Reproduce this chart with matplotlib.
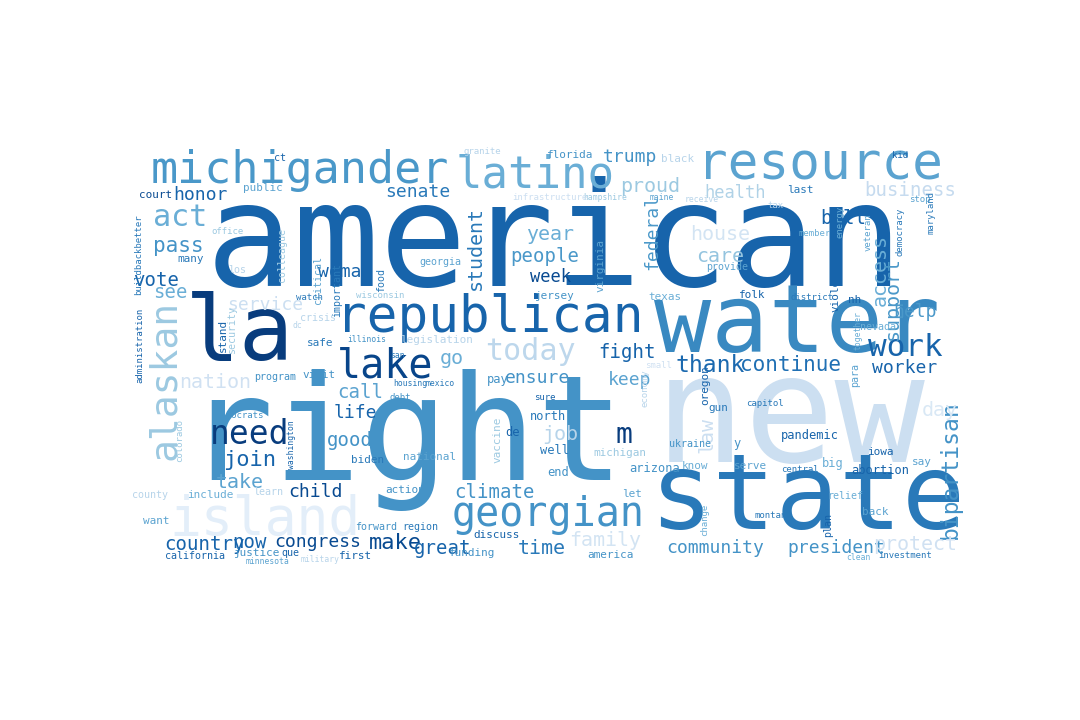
import matplotlib.pyplot as plt
from matplotlib import cm

# word, centre x, centre y (pixels), em size (px), rotation, shade in Blues
words = [
    ("american", 555, 245, 145, 0, 0.80),
    ("right", 405, 440, 146, 0, 0.62),
    ("new", 790, 420, 150, 0, 0.22),
    ("state", 807, 500, 105, 0, 0.72),
    ("water", 797, 325, 95, 0, 0.66),
    ("la", 240, 335, 91, 0, 0.95),
    ("resource", 820, 165, 51, 0, 0.55),
    ("michigander", 300, 170, 45, 0, 0.60),
    ("latino", 535, 175, 44, 0, 0.50),
    ("republican", 490, 318, 51, 0, 0.80),
    ("lake", 385, 367, 40, 0, 0.92),
    ("alaskan", 165, 380, 38, 90, 0.38),
    ("island", 265, 520, 53, 0, 0.10),
    ("georgian", 548, 515, 40, 0, 0.62),
    ("need", 250, 435, 33, 0, 0.95),
    ("today", 530, 352, 30, 0, 0.28),
    ("work", 905, 348, 31, 0, 0.80),
    ("thank", 710, 365, 23, 0, 0.78),
    ("continue", 790, 365, 21, 0, 0.75),
    ("bipartisan", 950, 470, 23, 90, 0.62),
    ("health", 735, 193, 17, 0, 0.32),
    ("business", 910, 190, 19, 0, 0.25),
    ("bill", 843, 218, 19, 0, 0.80),
    ("act", 180, 218, 30, 0, 0.50),
    ("pass", 178, 246, 21, 0, 0.62),
    ("vote", 156, 280, 19, 0, 0.80),
    ("see", 170, 292, 19, 0, 0.50),
    ("honor", 200, 195, 18, 0, 0.80),
    ("woman", 345, 272, 18, 0, 0.80),
    ("senate", 418, 192, 18, 0, 0.72),
    ("trump", 630, 157, 18, 0, 0.62),
    ("proud", 650, 187, 20, 0, 0.38),
    ("year", 550, 235, 20, 0, 0.50),
    ("people", 545, 256, 19, 0, 0.60),
    ("week", 550, 277, 17, 0, 0.90),
    ("student", 475, 248, 20, 90, 0.72),
    ("federal", 652, 232, 18, 90, 0.60),
    ("house", 720, 235, 20, 0, 0.18),
    ("care", 720, 256, 20, 0, 0.40),
    ("access", 880, 270, 20, 90, 0.50),
    ("support", 892, 298, 20, 90, 0.60),
    ("help", 915, 312, 18, 0, 0.60),
    ("go", 452, 358, 20, 0, 0.50),
    ("fight", 627, 353, 19, 0, 0.80),
    ("keep", 630, 380, 18, 0, 0.55),
    ("ensure", 537, 378, 18, 0, 0.62),
    ("worker", 905, 368, 18, 0, 0.80),
    ("call", 360, 393, 19, 0, 0.55),
    ("life", 355, 413, 18, 0, 0.80),
    ("good", 350, 440, 19, 0, 0.62),
    ("join", 250, 460, 22, 0, 0.80),
    ("take", 240, 482, 20, 0, 0.55),
    ("child", 315, 492, 18, 0, 0.90),
    ("climate", 495, 492, 19, 0, 0.62),
    ("job", 560, 435, 20, 0, 0.30),
    ("day", 940, 410, 20, 0, 0.15),
    ("country", 205, 544, 19, 0, 0.80),
    ("now", 250, 542, 19, 0, 0.80),
    ("congress", 318, 542, 18, 0, 0.90),
    ("make", 395, 543, 22, 0, 0.90),
    ("great", 443, 548, 19, 0, 0.80),
    ("time", 542, 549, 20, 0, 0.72),
    ("community", 715, 548, 18, 0, 0.62),
    ("president", 836, 548, 18, 0, 0.62),
    ("protect", 915, 545, 20, 0, 0.20),
    ("family", 605, 541, 20, 0, 0.18),
    ("service", 265, 305, 18, 0, 0.22),
    ("nation", 215, 382, 20, 0, 0.20),
    ("law", 707, 435, 20, 90, 0.22),
    ("m", 624, 435, 28, 0, 0.95),
    ("pandemic", 810, 435, 12, 0, 0.80),
    ("abortion", 880, 470, 12, 0, 0.80),
    ("serve", 750, 466, 11, 0, 0.55),
    ("big", 833, 464, 12, 0, 0.50),
    ("iowa", 880, 452, 11, 0, 0.80),
    ("say", 922, 462, 11, 0, 0.55),
    ("folk", 752, 295, 11, 0, 0.80),
    ("texas", 665, 297, 11, 0, 0.50),
    ("jersey", 555, 296, 11, 0, 0.62),
    ("virginia", 600, 265, 11, 90, 0.55),
    ("oregon", 705, 385, 11, 90, 0.80),
    ("arizona", 655, 468, 12, 0, 0.62),
    ("michigan", 620, 453, 11, 0, 0.38),
    ("well", 555, 451, 12, 0, 0.72),
    ("end", 558, 472, 12, 0, 0.62),
    ("de", 512, 432, 12, 0, 0.80),
    ("vaccine", 497, 440, 11, 90, 0.38),
    ("north", 548, 417, 12, 0, 0.72),
    ("sure", 545, 397, 9, 0, 0.80),
    ("pay", 498, 380, 12, 0, 0.62),
    ("biden", 368, 460, 11, 0, 0.72),
    ("national", 430, 457, 11, 0, 0.55),
    ("action", 405, 490, 11, 0, 0.62),
    ("discuss", 497, 535, 11, 0, 0.80),
    ("funding", 472, 553, 11, 0, 0.62),
    ("america", 610, 555, 11, 0, 0.62),
    ("first", 356, 556, 11, 0, 0.80),
    ("justice", 257, 553, 11, 0, 0.62),
    ("que", 290, 553, 10, 0, 0.80),
    ("california", 195, 556, 10, 0, 0.80),
    ("want", 156, 521, 11, 0, 0.55),
    ("court", 156, 195, 11, 0, 0.90),
    ("public", 263, 188, 11, 0, 0.55),
    ("ct", 280, 158, 10, 0, 0.80),
    ("florida", 570, 155, 11, 0, 0.62),
    ("granite", 482, 152, 9, 0, 0.30),
    ("black", 678, 159, 11, 0, 0.30),
    ("last", 800, 190, 11, 0, 0.72),
    ("kid", 900, 155, 9, 0, 0.80),
    ("stop", 920, 200, 9, 0, 0.55),
    ("maine", 662, 198, 8, 0, 0.55),
    ("hampshire", 605, 198, 8, 0, 0.38),
    ("receive", 702, 200, 8, 0, 0.30),
    ("tax", 775, 205, 9, 0, 0.30),
    ("member", 815, 233, 9, 0, 0.50),
    ("provide", 727, 267, 10, 0, 0.55),
    ("veteran", 868, 232, 9, 90, 0.55),
    ("democracy", 900, 232, 9, 90, 0.72),
    ("maryland", 931, 213, 9, 90, 0.72),
    ("energy", 840, 222, 9, 90, 0.50),
    ("violence", 835, 285, 11, 90, 0.80),
    ("nh", 855, 300, 11, 0, 0.80),
    ("nevada", 878, 327, 10, 0, 0.50),
    ("district", 812, 297, 9, 0, 0.72),
    ("capitol", 765, 404, 9, 0, 0.72),
    ("ukraine", 690, 444, 10, 0, 0.62),
    ("know", 695, 466, 11, 0, 0.50),
    ("central", 800, 470, 9, 0, 0.72),
    ("relief", 845, 496, 10, 0, 0.50),
    ("back", 875, 512, 11, 0, 0.55),
    ("plan", 828, 525, 10, 90, 0.80),
    ("montana", 773, 515, 9, 0, 0.72),
    ("let", 632, 494, 11, 0, 0.55),
    ("change", 705, 520, 9, 90, 0.50),
    ("clean", 858, 557, 8, 0, 0.50),
    ("investment", 905, 556, 9, 0, 0.72),
    ("economy", 645, 388, 9, 90, 0.30),
    ("small", 658, 365, 9, 0, 0.20),
    ("gun", 718, 408, 11, 0, 0.72),
    ("y", 737, 444, 12, 0, 0.62),
    ("para", 855, 375, 10, 90, 0.55),
    ("together", 858, 330, 8, 90, 0.50),
    ("illinois", 367, 340, 8, 0, 0.62),
    ("legislation", 437, 340, 11, 0, 0.30),
    ("safe", 320, 343, 11, 0, 0.72),
    ("stand", 223, 335, 11, 90, 0.80),
    ("security", 232, 330, 10, 90, 0.38),
    ("crisis", 318, 318, 10, 0, 0.30),
    ("critical", 318, 280, 10, 90, 0.55),
    ("important", 337, 290, 10, 90, 0.72),
    ("food", 381, 280, 10, 90, 0.72),
    ("watch", 309, 298, 9, 0, 0.72),
    ("wisconsin", 380, 296, 9, 0, 0.38),
    ("georgia", 440, 262, 10, 0, 0.55),
    ("colleague", 282, 255, 10, 90, 0.38),
    ("office", 227, 231, 9, 0, 0.38),
    ("many", 191, 259, 11, 0, 0.72),
    ("buildbackbetter", 139, 255, 9, 90, 0.72),
    ("administration", 140, 345, 9, 90, 0.80),
    ("minnesota", 268, 562, 8, 0, 0.55),
    ("military", 320, 560, 8, 0, 0.30),
    ("program", 275, 377, 10, 0, 0.62),
    ("democrats", 240, 416, 9, 0, 0.62),
    ("washington", 292, 445, 8, 90, 0.80),
    ("visit", 319, 375, 11, 0, 0.62),
    ("housing", 410, 384, 8, 0, 0.72),
    ("san", 397, 356, 8, 0, 0.72),
    ("mexico", 440, 383, 8, 0, 0.72),
    ("debt", 400, 397, 9, 0, 0.62),
    ("colorado", 180, 440, 9, 90, 0.38),
    ("county", 150, 495, 10, 0, 0.30),
    ("include", 210, 495, 11, 0, 0.50),
    ("learn", 268, 492, 10, 0, 0.30),
    ("forward", 376, 527, 10, 0, 0.62),
    ("region", 420, 527, 10, 0, 0.72),
    ("infrastructure", 550, 198, 9, 0, 0.22),
    ("los", 237, 270, 10, 0, 0.30),
    ("dc", 297, 326, 8, 0, 0.30),
]

fig = plt.figure(figsize=(10.8, 7.2), dpi=100)
ax = fig.add_axes([0, 0, 1, 1])
ax.set_xlim(0, 1080)
ax.set_ylim(720, 0)
ax.axis("off")

cmap = cm.get_cmap("Blues") if hasattr(cm, "get_cmap") else plt.get_cmap("Blues")
for w, x, y, em, rot, shade in words:
    ax.text(x, y, w, fontsize=em * 0.72, rotation=rot, ha="center", va="center",
            family="DejaVu Sans Mono", color=cmap(shade))

fig.savefig("out.png", dpi=100, facecolor="white")
